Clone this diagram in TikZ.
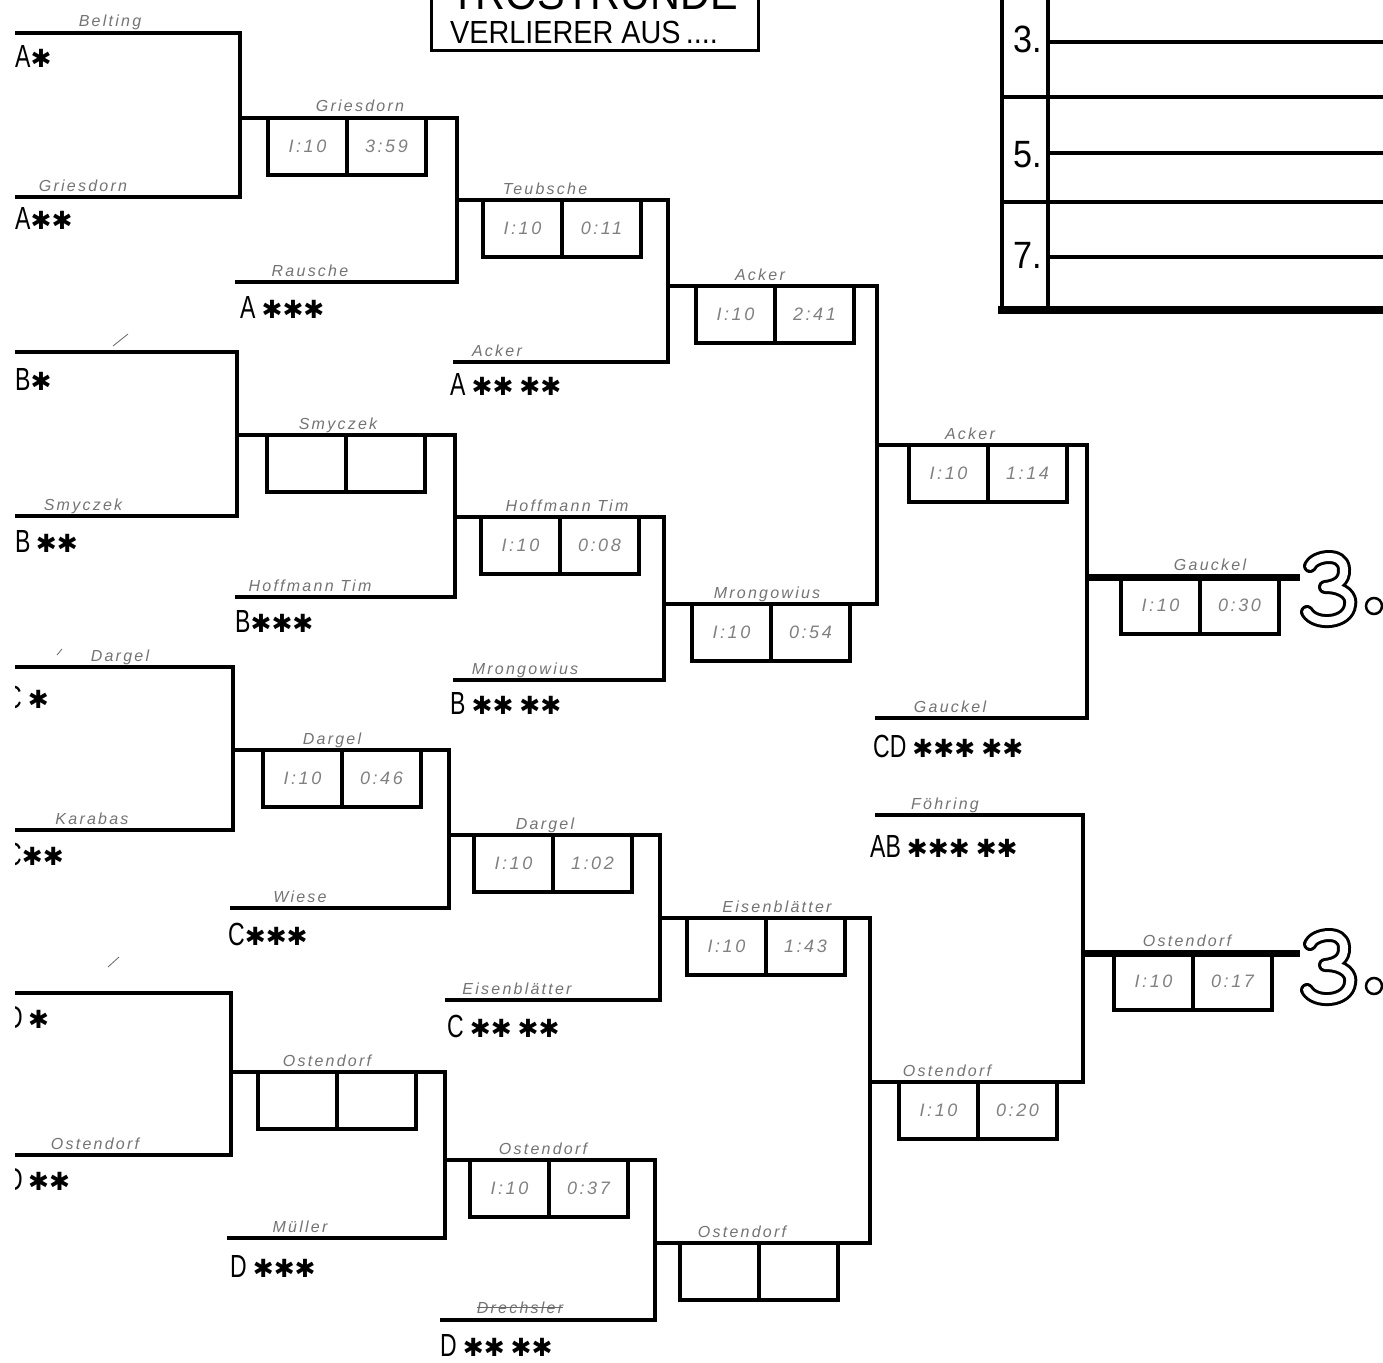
\documentclass[tikz,border=0pt]{standalone}
\usepackage{fontspec}
\setmainfont{Liberation Sans}
\newfontfamily\seedfont[FakeStretch=0.72]{Liberation Sans}
\newfontfamily\titlefont[FakeStretch=0.9]{Liberation Sans}
\newfontfamily\handfont[LetterSpace=14]{Liberation Sans}
\newfontfamily\starfont{DejaVu Sans}
\usetikzlibrary{positioning}

\newcommand{\mk}[1]{{\starfont\fontsize{25pt}{25pt}\selectfont #1}}
\newcommand{\gap}{\hspace{6pt}}
\newcommand{\bigthree}[1]{%
  \foreach \w/\c in {14pt/black, 8pt/white}
    \draw[line width=\w, draw=\c, line cap=round, line join=round, shift={#1}]
      (9,15) .. controls (13,5) and (42,0) .. (43,18)
      .. controls (44,31) and (34,35) .. (24,36)
      .. controls (44,36) and (51,46) .. (49,54)
      .. controls (47,73) and (14,75) .. (6,61);}

\begin{document}
\begin{tikzpicture}[
  x=1pt, y=-1pt,
  bar/.style={line width=4.5pt},
  finalbar/.style={line width=7pt},
  frame/.style={line width=4pt},
  scorebox/.style={draw, line width=3.5pt, minimum width=79pt, minimum height=57pt,
    inner sep=0pt, outer sep=0pt, anchor=north west, text=black!50,
    font=\handfont\itshape\fontsize{18pt}{18pt}\selectfont},
  player/.style={anchor=base, inner sep=0pt, text=black!55,
    font=\handfont\itshape\fontsize{16pt}{16pt}\selectfont},
  seed/.style={anchor=base west, inner sep=0pt, font=\seedfont\fontsize{32pt}{32pt}\selectfont},
  titletext/.style={anchor=base, inner sep=0pt, font=\titlefont\fontsize{32pt}{32pt}\selectfont},
  place/.style={anchor=base, inner sep=0pt, font=\titlefont\fontsize{38pt}{38pt}\selectfont}
  ]
\useasboundingbox (0,0) rectangle (1383,1362);
\clip (0,0) rectangle (1383,1362);

% TITLE
\node[draw, line width=3pt, minimum width=327pt, minimum height=80pt, inner sep=0pt,
  anchor=south] (titlebox) at (594.5,52) {};
\node[titletext, font=\titlefont\fontsize{46pt}{46pt}\selectfont] (t-top) at (594,10) {TROSTRUNDE};
\node[titletext] (t-bot) at (584,44) {VERLIERER AUS\,....};

% PLACES panel
\draw[frame] (1002,-5) -- (1002,310);
\draw[frame] (1048,-5) -- (1048,306);
\draw[frame] (1048,42) -- (1383,42);
\draw[frame] (1002,97) -- (1383,97);
\draw[frame] (1048,153) -- (1383,153);
\draw[frame] (1002,202) -- (1383,202);
\draw[frame] (1048,257) -- (1383,257);
\draw[line width=8pt] (998,310) -- (1383,310);
\node[place] (p3) at (1028,53) {3.};
\node[place] (p5) at (1028,167) {5.};
\node[place] (p7) at (1028,268) {7.};

% group A
\coordinate (a1) at (15,33);
\coordinate (a2) at (15,197);
\coordinate (wa) at (240,118);
\coordinate (a3) at (235,282);
\coordinate (va) at (457,200);
\coordinate (a4) at (453,362);
\coordinate (ua) at (668,286);
% group B
\coordinate (b1) at (15,352);
\coordinate (b2) at (15,516);
\coordinate (wb) at (237,435);
\coordinate (b3) at (235,597);
\coordinate (vb) at (455,517);
\coordinate (b4) at (453,680);
\coordinate (ub) at (664,604);
% group C
\coordinate (c1) at (15,667);
\coordinate (c2) at (15,830);
\coordinate (wc) at (233,750);
\coordinate (c3) at (230,908);
\coordinate (vc) at (449,835);
\coordinate (c4) at (445,1000);
\coordinate (uc) at (660,918);
% group D
\coordinate (d1) at (15,993);
\coordinate (d2) at (15,1155);
\coordinate (wd) at (231,1072);
\coordinate (d3) at (227,1238);
\coordinate (vd) at (445,1160);
\coordinate (d4) at (440,1320);
\coordinate (ud) at (655,1243);
% last rounds
\coordinate (ab) at (877,445);
\coordinate (cdx) at (875,718);
\coordinate (fin1) at (1087,577);
\coordinate (end1) at (1300,577);
\coordinate (abx) at (875,815);
\coordinate (cd) at (870,1082);
\coordinate (fin2) at (1083,953);
\coordinate (end2) at (1300,953);

% BRACKET lines
\draw[bar] (a1) -| (wa) |- (a2);
\draw[bar] (wa) -| (va) |- (a3);
\draw[bar] (va) -| (ua) |- (a4);
\draw[bar] (b1) -| (wb) |- (b2);
\draw[bar] (wb) -| (vb) |- (b3);
\draw[bar] (vb) -| (ub) |- (b4);
\draw[bar] (ua) -| (ab) |- (ub);
\draw[bar] (ab) -| (fin1) |- (cdx);
\draw[finalbar] (fin1) -- (end1);
\draw[bar] (c1) -| (wc) |- (c2);
\draw[bar] (wc) -| (vc) |- (c3);
\draw[bar] (vc) -| (uc) |- (c4);
\draw[bar] (d1) -| (wd) |- (d2);
\draw[bar] (wd) -| (vd) |- (d3);
\draw[bar] (vd) -| (ud) |- (d4);
\draw[bar] (uc) -| (cd) |- (ud);
\draw[bar] (abx) -| (fin2) |- (cd);
\draw[finalbar] (fin2) -- (end2);

% SCORE boxes
\node[scorebox] (l-wa) at ([xshift=28pt]wa) {I:10};
\node[scorebox, right=0pt of l-wa] (r-wa) {3:59};
\node[scorebox] (l-va) at ([xshift=26pt]va) {I:10};
\node[scorebox, right=0pt of l-va] (r-va) {0:11};
\node[scorebox] (l-ua) at ([xshift=28pt]ua) {I:10};
\node[scorebox, right=0pt of l-ua] (r-ua) {2:41};
\node[scorebox] (l-wb) at ([xshift=30pt]wb) {};
\node[scorebox, right=0pt of l-wb] (r-wb) {};
\node[scorebox] (l-vb) at ([xshift=26pt]vb) {I:10};
\node[scorebox, right=0pt of l-vb] (r-vb) {0:08};
\node[scorebox] (l-ub) at ([xshift=28pt]ub) {I:10};
\node[scorebox, right=0pt of l-ub] (r-ub) {0:54};
\node[scorebox] (l-ab) at ([xshift=32pt]ab) {I:10};
\node[scorebox, right=0pt of l-ab] (r-ab) {1:14};
\node[scorebox] (l-fin1) at ([xshift=34pt]fin1) {I:10};
\node[scorebox, right=0pt of l-fin1] (r-fin1) {0:30};
\node[scorebox] (l-wc) at ([xshift=30pt]wc) {I:10};
\node[scorebox, right=0pt of l-wc] (r-wc) {0:46};
\node[scorebox] (l-vc) at ([xshift=25pt]vc) {I:10};
\node[scorebox, right=0pt of l-vc] (r-vc) {1:02};
\node[scorebox] (l-uc) at ([xshift=27pt]uc) {I:10};
\node[scorebox, right=0pt of l-uc] (r-uc) {1:43};
\node[scorebox] (l-wd) at ([xshift=27pt]wd) {};
\node[scorebox, right=0pt of l-wd] (r-wd) {};
\node[scorebox] (l-vd) at ([xshift=25pt]vd) {I:10};
\node[scorebox, right=0pt of l-vd] (r-vd) {0:37};
\node[scorebox] (l-ud) at ([xshift=25pt]ud) {};
\node[scorebox, right=0pt of l-ud] (r-ud) {};
\node[scorebox] (l-cd) at ([xshift=29pt]cd) {I:10};
\node[scorebox, right=0pt of l-cd] (r-cd) {0:20};
\node[scorebox] (l-fin2) at ([xshift=31pt]fin2) {I:10};
\node[scorebox, right=0pt of l-fin2] (r-fin2) {0:17};

% PLAYER names
\node[player] (n-a1) at (110,27) {Belting};
\node[player] (n-a2) at (83,191) {Griesdorn};
\node[player] (n-wa) at (360,112) {Griesdorn};
\node[player] (n-a3) at (310,276) {Rausche};
\node[player] (n-va) at (545,194) {Teubsche};
\node[player] (n-a4) at (497,356) {Acker};
\node[player] (n-ua) at (760,280) {Acker};
\node[player] (n-b2) at (83,510) {Smyczek};
\node[player] (n-wb) at (338,429) {Smyczek};
\node[player] (n-b3) at (310,591) {Hoffmann Tim};
\node[player] (n-vb) at (567,511) {Hoffmann Tim};
\node[player] (n-b4) at (525,674) {Mrongowius};
\node[player] (n-ub) at (767,598) {Mrongowius};
\node[player] (n-ab) at (970,439) {Acker};
\node[player] (n-cdx) at (950,712) {Gauckel};
\node[player] (n-fin1) at (1210,570) {Gauckel};
\node[player] (n-c1) at (120,661) {Dargel};
\node[player] (n-c2) at (92,824) {Karabas};
\node[player] (n-wc) at (332,744) {Dargel};
\node[player] (n-c3) at (300,902) {Wiese};
\node[player] (n-vc) at (545,829) {Dargel};
\node[player] (n-c4) at (517,994) {Eisenblätter};
\node[player] (n-uc) at (777,912) {Eisenblätter};
\node[player] (n-d2) at (95,1149) {Ostendorf};
\node[player] (n-wd) at (327,1066) {Ostendorf};
\node[player] (n-d3) at (300,1232) {Müller};
\node[player] (n-vd) at (543,1154) {Ostendorf};
\node[player] (n-d4) at (520,1313) {Drechsler};
\node[player] (n-ud) at (742,1237) {Ostendorf};
\node[player] (n-cd) at (947,1076) {Ostendorf};
\node[player] (n-abx) at (945,809) {Föhring};
\node[player] (n-fin2) at (1187,946) {Ostendorf};
\draw[black!60, thick] (n-d4.west) -- (n-d4.east);
% pen ticks
\draw[black!60, thick] (113,346) -- (128,334);
\draw[black!60, thick] (108,967) -- (119,957);
\draw[black!60, thick] (57,655) -- (62,649);

% SEEDS
\node[seed] (s-a1) at (15,68) {A\mk{✱}};
\node[seed] (s-a2) at (15,229) {A\mk{✱✱}};
\node[seed] (s-a3) at (240,318) {A\gap\mk{✱✱✱}};
\node[seed] (s-a4) at (450,395) {A\gap\mk{✱✱\gap✱✱}};
\node[seed] (s-b1) at (15,390) {B\mk{✱}};
\node[seed] (s-b2) at (15,552) {B\,\mk{✱✱}};
\node[seed] (s-b3) at (235,632) {B\mk{✱✱✱}};
\node[seed] (s-b4) at (450,714) {B\gap\mk{✱✱\gap✱✱}};
\begin{scope}
  \clip (15,640) rectangle (200,1200);
  \node[seed] (s-c1) at (5,708) {C\gap\mk{✱}};
  \node[seed] (s-c2) at (5,865) {C\mk{✱✱}};
  \node[seed] (s-d1) at (6,1028) {D\,\mk{✱}};
  \node[seed] (s-d2) at (6,1190) {D\,\mk{✱✱}};
\end{scope}
\node[seed] (s-c3) at (228,945) {C\mk{✱✱✱}};
\node[seed] (s-c4) at (447,1037) {C\gap\mk{✱✱\gap✱✱}};
\node[seed] (s-d3) at (230,1277) {D\gap\mk{✱✱✱}};
\node[seed] (s-d4) at (440,1356) {D\gap\mk{✱✱\gap✱✱}};
\node[seed] (s-cd) at (873,757) {CD\gap\mk{✱✱✱\gap✱✱}};
\node[seed] (s-ab) at (870,857) {AB\gap\mk{✱✱✱\gap✱✱}};

% THIRD places
\bigthree{(1301,551)}
\draw[line width=2.5pt] (1374,606) circle (8pt);
\bigthree{(1301,929)}
\draw[line width=2.5pt] (1374,986) circle (8pt);
\end{tikzpicture}
\end{document}
